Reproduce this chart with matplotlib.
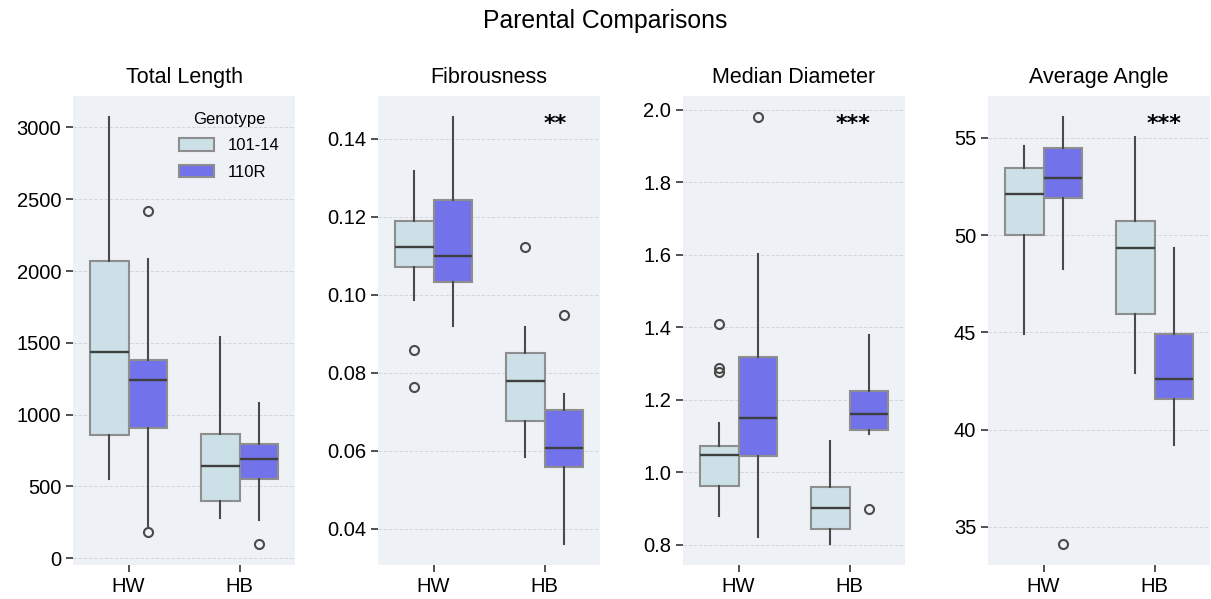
import matplotlib
matplotlib.use("Agg")
import matplotlib.pyplot as plt
from matplotlib.patches import Patch

plt.rcParams['font.family'] = ['Liberation Sans', 'DejaVu Sans']

categories = ['HW', 'HB']
genotypes = ['101-14', '110R']
titles = ['Total Length', 'Fibrousness', 'Median Diameter', 'Average Angle']
signif = ['', '**', '***', '***']

# five numbers per category: whisker low, q1, median, q3, whisker high
length_101 = [[553, 854, 1436, 2069, 3072], [281, 395, 642, 866, 1540]]
length_110 = [[221, 907, 1241, 1381, 2081], [262, 553, 690, 794, 1080]]
length_101_out = [[], []]
length_110_out = [[2415, 180], [101]]

fibro_101 = [[0.0986, 0.1070, 0.1123, 0.1188, 0.1318], [0.0583, 0.0676, 0.0778, 0.0850, 0.0917]]
fibro_110 = [[0.0919, 0.1032, 0.1099, 0.1242, 0.1455], [0.0362, 0.0557, 0.0607, 0.0704, 0.0745]]
fibro_101_out = [[0.0858, 0.0763], [0.1123]]
fibro_110_out = [[], [0.0949]]

diam_101 = [[0.879, 0.963, 1.047, 1.072, 1.136], [0.803, 0.844, 0.900, 0.960, 1.085]]
diam_110 = [[0.822, 1.046, 1.150, 1.317, 1.602], [1.105, 1.117, 1.160, 1.224, 1.379]]
diam_101_out = [[1.409, 1.288, 1.277], []]
diam_110_out = [[1.980], [0.898]]

angle_101 = [[44.92, 49.99, 52.11, 53.44, 54.59], [42.90, 45.95, 49.36, 50.71, 55.05]]
angle_110 = [[48.26, 51.93, 52.91, 54.50, 56.06], [39.21, 41.60, 42.63, 44.94, 49.32]]
angle_101_out = [[], []]
angle_110_out = [[34.15], []]

panels = [
    (length_101, length_110, length_101_out, length_110_out),
    (fibro_101, fibro_110, fibro_101_out, fibro_110_out),
    (diam_101, diam_110, diam_101_out, diam_110_out),
    (angle_101, angle_110, angle_101_out, angle_110_out),
]

colors = ['#cce0e8', '#7272ea']
bg = '#eef1f6'
star_x = [1.0, 1.1, 1.03, 1.09]


def make_stats(five, outs):
    stats = []
    for f, o in zip(five, outs):
        stats.append(dict(whislo=f[0], q1=f[1], med=f[2], q3=f[3], whishi=f[4], fliers=o))
    return stats


fig = plt.figure(figsize=(12.11, 5.99), dpi=100)
lefts = [73, 378, 683, 988]

for i, (s101, s110, o101, o110) in enumerate(panels):
    ax = fig.add_axes([lefts[i] / 1211, 0.057, 222 / 1211, 0.783])
    ax.set_facecolor(bg)
    for g, (five, outs) in enumerate([(s101, o101), (s110, o110)]):
        pos = [c + (-0.175 if g == 0 else 0.175) for c in range(len(categories))]
        ax.bxp(make_stats(five, outs), positions=pos, widths=0.35, patch_artist=True,
               showcaps=False, manage_ticks=False,
               boxprops=dict(facecolor=colors[g], edgecolor='#8e8e8e', linewidth=1.5),
               whiskerprops=dict(color='#4a4a4a', linewidth=1.5),
               medianprops=dict(color='#3f3f3f', linewidth=1.7),
               flierprops=dict(marker='o', markerfacecolor='none', markeredgecolor='#4a4a4a',
                               markersize=6.5, markeredgewidth=1.5))
    ax.set_xlim(-0.5, 1.5)
    ax.set_xticks(range(len(categories)))
    ax.set_xticklabels(categories)
    ax.margins(y=0.05)
    ax.autoscale(axis='y')
    for sp in ax.spines.values():
        sp.set_visible(False)
    ax.grid(axis='y', linestyle='--', color='#d3d7de', linewidth=0.7)
    ax.set_axisbelow(True)
    ax.tick_params(axis='both', labelsize=14.5, length=5, width=1.2, color='#333333')
    ax.set_title(titles[i], fontsize=15.5, pad=9)
    if signif[i]:
        ax.text(star_x[i], 0.94, signif[i], transform=ax.get_xaxis_transform(),
                ha='center', va='center', fontsize=16, fontweight='bold', family='DejaVu Sans')
    if i == 0:
        handles = [Patch(facecolor=colors[k], edgecolor='#8e8e8e', linewidth=1.5, label=genotypes[k])
                   for k in range(2)]
        ax.legend(handles=handles, title='Genotype', loc='upper right', frameon=False,
                  fontsize=12, title_fontsize=12, handlelength=2.1, handleheight=0.75,
                  labelspacing=0.7, borderaxespad=0.55)

fig.suptitle('Parental Comparisons', fontsize=17.8, y=0.965, va='center')
fig.savefig('out.png', dpi=100)
